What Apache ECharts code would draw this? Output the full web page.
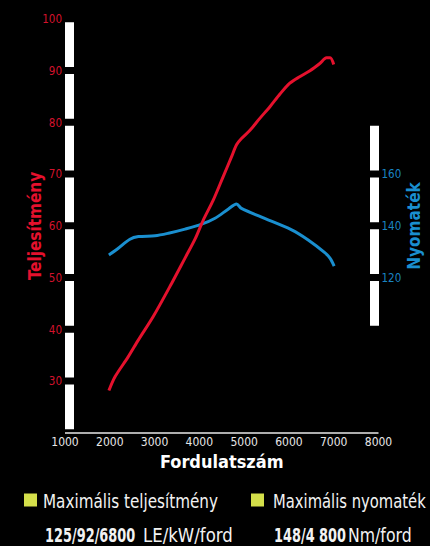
<!DOCTYPE html>
<html>
<head>
<meta charset="utf-8">
<script src="https://cdn.jsdelivr.net/npm/echarts@6/dist/echarts.min.js"></script>
<style>
html,body{margin:0;padding:0;background:#000;}
#chart{width:430px;height:546px;}
</style>
</head>
<body>
<div id="chart"></div>
<script>
// Data
const powerRpm = [1980, 2120, 2410, 2640, 2970, 3380, 3680, 3900, 4090, 4310, 4530, 4720, 4830, 4940, 5130, 5350, 5580, 5800, 6020, 6250, 6470, 6690, 6840, 6920, 7000];
const powerKw  = [28.2, 30.9, 34.7, 38.0, 42.5, 48.9, 53.8, 57.4, 61.2, 65.0, 69.5, 73.4, 75.7, 76.9, 78.5, 80.8, 83.1, 85.5, 87.6, 88.9, 90.0, 91.4, 92.5, 92.5, 91.2];
const torqueRpm = [1980, 2190, 2450, 2640, 3010, 3310, 3680, 4050, 4350, 4650, 4830, 4940, 5390, 6060, 6430, 6800, 6920, 7010];
const torqueNm  = [128.8, 131.4, 134.9, 135.9, 136.2, 137.2, 138.8, 140.7, 143.0, 146.6, 148.5, 146.8, 143.4, 138.5, 134.6, 129.7, 127.5, 124.5];

const xTitle = 'Fordulatszám';
const leftTitle = 'Teljesítmény';
const rightTitle = 'Nyomaték';
const legendNames = ['Maximális teljesítmény', 'Maximális nyomaték'];
const legendValues = ['125/92/6800', '148/4 800'];
const legendUnits = ['LE/kW/ford', 'Nm/ford'];

const FONT = '"DejaVu Sans Condensed", "DejaVu Sans", sans-serif';
const RED = '#e5112d', RED_LABEL = '#d3122c';
const BLUE = '#1a8fcf', BLUE_LABEL = '#1a84c2';
const KEY = '#d4df4a';
const TXT = '#f2f2f2';

const chart = echarts.init(document.getElementById('chart'), null, {renderer: 'svg'});

const segLine = {color: '#ffffff', width: 9, type: [44.75, 7], dashOffset: 48.25, cap: 'butt'};

function txt(x, y, text, size, weight, scaleX) {
  return {
    type: 'text', x: x, y: y, scaleX: scaleX, originX: 0, originY: 0,
    style: {text: text, fill: TXT, fontSize: size, fontWeight: weight, fontFamily: FONT,
            align: 'left', verticalAlign: 'middle', textAlign: 'left', textVerticalAlign: 'middle'}
  };
}

chart.setOption({
  backgroundColor: '#000',
  animation: false,
  grid: [
    {left: 65, right: 51.5, top: 19, bottom: 113, outerBoundsMode: 'none', containLabel: false},
    {left: 65, right: 51.5, top: 122.5, bottom: 216.5, outerBoundsMode: 'none', containLabel: false}
  ],
  xAxis: [
    {
      type: 'value', gridIndex: 0, min: 1000, max: 8000, interval: 1000,
      axisLine: {lineStyle: {color: '#e8e8e8', width: 1.5, cap: 'butt'}},
      axisTick: {show: false}, splitLine: {show: false},
      axisLabel: {color: '#e6e6e6', fontSize: 12, fontFamily: FONT, margin: 3, formatter: v => String(v)},
      name: xTitle, nameLocation: 'middle', nameGap: 19, nameMoveOverlap: false,
      nameTextStyle: {color: '#ffffff', fontSize: 18, fontWeight: 'bold', fontFamily: FONT}
    },
    {type: 'value', gridIndex: 1, min: 1000, max: 8000, show: false}
  ],
  yAxis: [
    {
      type: 'value', gridIndex: 0, min: 20, max: 100, interval: 10, offset: -4.5,
      axisLine: {show: true, lineStyle: segLine},
      axisTick: {show: false}, splitLine: {show: false},
      axisLabel: {color: RED_LABEL, fontSize: 11.5, fontFamily: FONT, margin: 7.5, showMinLabel: false},
      name: leftTitle, nameLocation: 'middle', nameGap: 26, nameRotate: 90, nameMoveOverlap: false,
      nameTextStyle: {color: RED, fontSize: 17, fontWeight: 'bold', fontFamily: FONT}
    },
    {
      type: 'value', gridIndex: 1, position: 'right', min: 100, max: 180, interval: 20, offset: -4,
      axisLine: {show: true, lineStyle: segLine},
      axisTick: {show: false}, splitLine: {show: false},
      axisLabel: {color: BLUE_LABEL, fontSize: 11.5, fontFamily: FONT, margin: 7, showMinLabel: false, showMaxLabel: false},
      name: rightTitle, nameLocation: 'middle', nameGap: 31, nameRotate: 90, nameMoveOverlap: false,
      nameTextStyle: {color: BLUE, fontSize: 17, fontWeight: 'bold', fontFamily: FONT}
    }
  ],
  series: [
    {
      type: 'line', xAxisIndex: 1, yAxisIndex: 1, smooth: 0.3, showSymbol: false,
      lineStyle: {color: BLUE, width: 3}, silent: true,
      data: torqueRpm.map((r, i) => [r, torqueNm[i]])
    },
    {
      type: 'line', xAxisIndex: 0, yAxisIndex: 0, smooth: 0.3, showSymbol: false,
      lineStyle: {color: RED, width: 3}, silent: true,
      data: powerRpm.map((r, i) => [r, powerKw[i]])
    }
  ],
  graphic: [
    {type: 'rect', shape: {x: 24, y: 493.5, width: 13, height: 13}, style: {fill: KEY}},
    {type: 'rect', shape: {x: 251, y: 493.5, width: 13, height: 13}, style: {fill: KEY}},
    txt(43, 501.5, legendNames[0], 19, 'normal', 0.89),
    txt(273, 501.5, legendNames[1], 19, 'normal', 0.865),
    txt(45, 535, legendValues[0], 19, 'bold', 0.756),
    txt(143, 535, legendUnits[0], 19, 'normal', 0.97),
    txt(274, 535, legendValues[1], 19, 'bold', 0.755),
    txt(348, 535, legendUnits[1], 19, 'normal', 0.92)
  ]
});
</script>
</body>
</html>
